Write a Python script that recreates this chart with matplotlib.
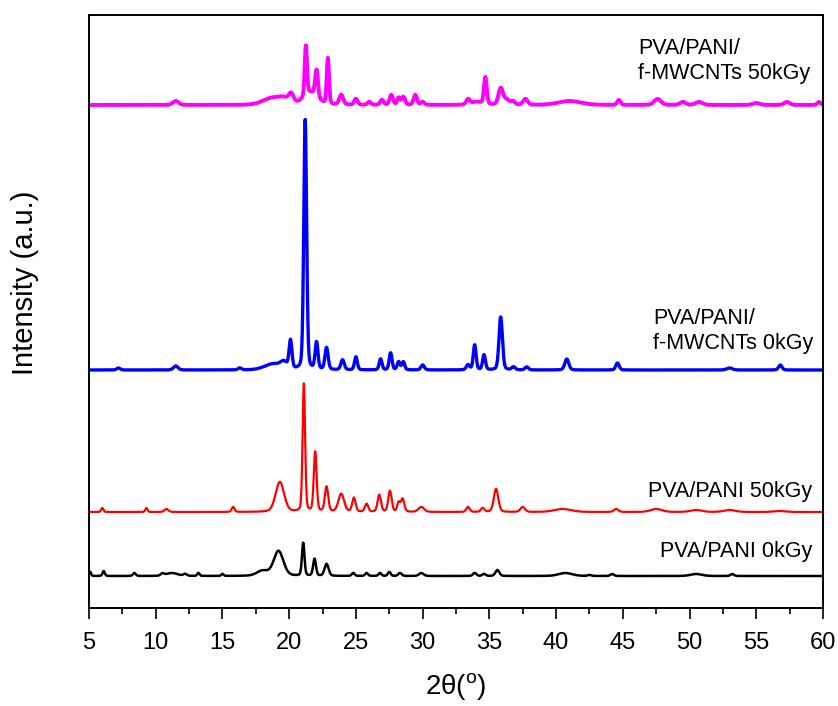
import numpy as np
import matplotlib
matplotlib.use("Agg")
import matplotlib.pyplot as plt
from matplotlib.ticker import MultipleLocator

plt.rcParams['font.family'] = ['Liberation Sans', 'DejaVu Sans']
plt.rcParams['mathtext.fontset'] = 'custom'
plt.rcParams['mathtext.rm'] = 'Liberation Sans'

# ---- data: peak lists (2theta position, height a.u., FWHM deg) ----
black_pos = [5.1, 6.1, 8.4, 10.5, 11.2, 12.2, 13.2, 15.0, 18.0, 19.2, 21.05, 21.9, 22.8, 24.8, 25.8,
             26.8, 27.5, 28.3, 29.9, 33.9, 34.6, 35.6, 40.7, 42.5, 44.2, 50.5, 53.2]
black_h = [4, 5, 3, 2, 3, 2, 3, 2, 5, 25, 33, 17, 12, 3, 3,
           3, 4, 3, 3, 3, 2, 6, 3, 1, 2, 2, 2]
black_w = [0.15, 0.2, 0.25, 0.3, 1.0, 0.3, 0.2, 0.2, 1.0, 0.85, 0.22, 0.25, 0.35, 0.25, 0.25,
           0.25, 0.25, 0.3, 0.4, 0.3, 0.3, 0.35, 1.2, 0.3, 0.3, 1.0, 0.3]

red_pos = [6.0, 9.3, 10.8, 15.8, 19.3, 21.1, 21.95, 22.8, 23.9, 24.85, 25.8, 26.75, 27.55, 28.2,
           28.5, 29.9, 33.4, 34.5, 35.5, 37.5, 40.5, 44.5, 47.5, 50.5, 53.0, 56.7]
red_h = [4, 4, 3, 5, 30, 128, 60, 25, 18, 14, 8, 17, 21, 9,
         13, 5, 5, 4, 23, 5, 3, 3, 3, 2, 2, 1]
red_w = [0.2, 0.2, 0.35, 0.25, 0.75, 0.22, 0.25, 0.3, 0.5, 0.3, 0.3, 0.3, 0.3, 0.25,
         0.3, 0.5, 0.3, 0.3, 0.4, 0.4, 1.5, 0.4, 1.0, 1.0, 1.0, 1.0]

blue_pos = [7.2, 11.5, 16.3, 18.8, 19.6, 20.1, 21.2, 22.05, 22.8, 24.0, 25.0, 26.85, 27.6, 28.2,
            28.55, 30.0, 33.4, 33.9, 34.6, 35.85, 36.8, 37.8, 40.8, 44.6, 53.0, 56.8]
blue_h = [2, 4, 2, 6, 6, 28, 250, 27, 22, 10, 13, 11, 17, 8,
          8, 5, 5, 25, 15, 53, 3, 3, 11, 7, 2, 5]
blue_w = [0.3, 0.4, 0.3, 1.5, 0.6, 0.25, 0.25, 0.25, 0.28, 0.3, 0.25, 0.25, 0.25, 0.25,
          0.25, 0.3, 0.3, 0.25, 0.25, 0.3, 0.3, 0.3, 0.35, 0.3, 0.5, 0.3]

pink_pos = [11.5, 18.6, 19.6, 20.15, 21.25, 21.6, 22.05, 22.9, 23.9, 25.0, 26.0, 26.95, 27.65, 28.2,
            28.55, 29.45, 30.0, 33.4, 34.0, 34.7, 35.85, 36.3, 36.8, 37.7, 41.0, 44.7, 47.6,
            49.5, 50.7, 55.0, 57.3, 59.7]
pink_h = [4, 6, 6, 8, 50, 12, 27, 46, 10, 6, 3, 5, 10, 7,
          8, 10, 3, 5, 3, 27, 16, 5, 3, 6, 4, 5, 6,
          3, 3, 2, 3, 3]
pink_w = [0.5, 1.5, 1.2, 0.4, 0.2, 1.2, 0.25, 0.2, 0.35, 0.3, 0.3, 0.3, 0.3, 0.25,
          0.3, 0.3, 0.3, 0.3, 1.0, 0.25, 0.4, 0.6, 0.3, 0.4, 2.0, 0.3, 0.6,
          0.5, 0.6, 0.6, 0.5, 0.3]

offsets = {'black': 32, 'red': 96, 'blue': 238, 'pink': 503}
labels = ["PVA/PANI 0kGy", "PVA/PANI 50kGy", "PVA/PANI/\nf-MWCNTs 0kGy", "PVA/PANI/\nf-MWCNTs 50kGy"]
x_ticks = [5, 10, 15, 20, 25, 30, 35, 40, 45, 50, 55, 60]


def pattern(x, pos, h, w, eta=0.25):
    y = np.zeros_like(x)
    for p, a, f in zip(pos, h, w):
        g = np.exp(-4 * np.log(2) * ((x - p) / f) ** 2)
        l = 1.0 / (1.0 + 4 * ((x - p) / f) ** 2)
        y += a * ((1 - eta) * g + eta * l)
    return y


x = np.linspace(5, 60, 2751)

fig = plt.figure(figsize=(8.38, 7.06), dpi=100)
ax = fig.add_axes([89 / 838, 1 - 608 / 706, 734 / 838, 593 / 706])

ax.plot(x, offsets['black'] + pattern(x, black_pos, black_h, black_w), color='black', lw=1.8)
ax.plot(x, offsets['red'] + pattern(x, red_pos, red_h, red_w), color='#ff0000', lw=1.6)
ax.plot(x, offsets['blue'] + pattern(x, blue_pos, blue_h, blue_w), color='#0000ff', lw=2.4)
ax.plot(x, offsets['pink'] + pattern(x, pink_pos, pink_h, pink_w), color='#ff00ff', lw=2.8)

ax.set_xlim(5, 60)
ax.set_ylim(0, 593)
ax.set_xticks(x_ticks)
ax.xaxis.set_minor_locator(MultipleLocator(2.5))
ax.set_yticks([])
ax.tick_params(axis='x', which='major', direction='out', length=8, width=1.2,
               labelsize=17, pad=9)
ax.tick_params(axis='x', which='minor', direction='out', length=4, width=1.2)
for s in ax.spines.values():
    s.set_linewidth(1.4)

ax.set_xlabel(r"2θ($^{\rm o}$)", fontsize=20)
ax.xaxis.set_label_coords(0.5, -0.106)
ax.set_ylabel("Intensity (a.u.)", fontsize=21)
ax.yaxis.set_label_coords(-0.068, 0.548)


def fx(px):
    return (px - 89) / 734


def fy(py):
    return (608 - py) / 593


tk = dict(transform=ax.transAxes, fontsize=15.5, linespacing=1.2)
ax.text(fx(812), fy(551), labels[0], ha='right', va='center', **tk)
ax.text(fx(812), fy(491), labels[1], ha='right', va='center', **tk)
ax.text(fx(653), fy(331), labels[2], ha='left', va='center', **tk)
ax.text(fx(638), fy(61), labels[3], ha='left', va='center', **tk)

fig.savefig("out.png", dpi=100)
